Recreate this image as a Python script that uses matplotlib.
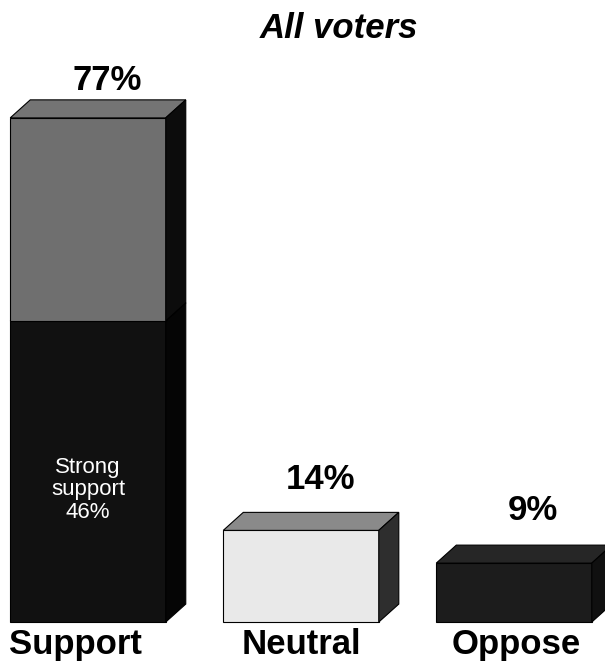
import matplotlib.pyplot as plt
from matplotlib.patches import Polygon

plt.rcParams['font.family'] = ['Liberation Sans', 'DejaVu Sans']

# data
categories = ['Support', 'Neutral', 'Oppose']
totals = [77, 14, 9]
strong_support = 46
value_labels = ['77%', '14%', '9%']

front_colors = ['#6f6f6f', '#e9e9e9', '#1c1c1c']
top_colors = ['#747474', '#8a8a8a', '#262626']
side_colors = ['#0c0c0c', '#2e2e2e', '#101010']
label_pad = [0.5, 2.5, 2.8]
cat_shift = [-0.06, 0.0, 0.01]

fig = plt.figure(figsize=(6.05, 6.62), dpi=100)
ax = fig.add_axes([0, 0, 1, 1])
ax.set_xlim(-0.413, 2.427)
ax.set_ylim(-6.1, 95.0)
ax.axis('off')

width = 0.73
dx = 0.094   # depth offset in x units
dy = 2.75    # depth offset in % units


def box(x0, x1, y0, y1, front, top, side, z):
    ax.add_patch(Polygon([(x0, y0), (x1, y0), (x1, y1), (x0, y1)],
                         closed=True, fc=front, ec='black', lw=0.8, zorder=z))
    ax.add_patch(Polygon([(x0, y1), (x1, y1), (x1 + dx, y1 + dy), (x0 + dx, y1 + dy)],
                         closed=True, fc=top, ec='black', lw=0.8, zorder=z))
    ax.add_patch(Polygon([(x1, y0), (x1 + dx, y0 + dy), (x1 + dx, y1 + dy), (x1, y1)],
                         closed=True, fc=side, ec='black', lw=0.8, zorder=z))


for i, cat in enumerate(categories):
    x0 = i - width / 2
    x1 = i + width / 2
    if i == 0:
        # stacked: strong support at the bottom, the rest above
        box(x0, x1, 0, strong_support, '#111111', '#111111', '#050505', 2)
        box(x0, x1, strong_support, totals[i], front_colors[i], top_colors[i], side_colors[i], 3)
        ax.text(i, 20.2, 'Strong\nsupport\n46%', color='white',
                ha='center', va='center', fontsize=16, linespacing=1.1)
    else:
        box(x0, x1, 0, totals[i], front_colors[i], top_colors[i], side_colors[i], 2)
    ax.text(i + 0.09, totals[i] + dy + label_pad[i], value_labels[i],
            ha='center', va='bottom', fontsize=25, fontweight='bold')
    ax.text(i + cat_shift[i], -0.9, cat, ha='center', va='top',
            fontsize=25, fontweight='bold')

ax.text(1.18, 90.7, 'All voters', ha='center', va='center', fontsize=25,
        fontweight='bold', fontstyle='italic')

fig.savefig('out.png', dpi=100)
